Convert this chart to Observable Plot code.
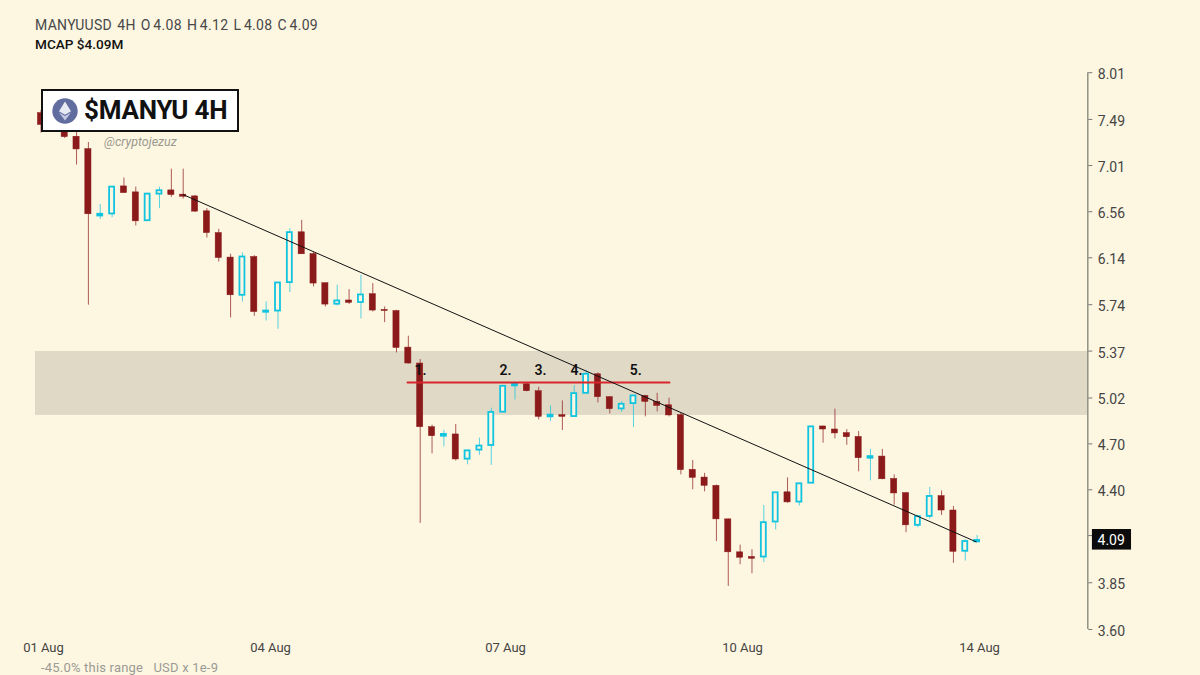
<!DOCTYPE html>
<html>
<head>
<meta charset="utf-8">
<script src="https://cdn.jsdelivr.net/npm/d3@7"></script>
<script src="https://cdn.jsdelivr.net/npm/@observablehq/plot@0.6"></script>
<style>
  html, body { margin: 0; padding: 0; background: #fdf6e1; width: 1200px; height: 675px; overflow: hidden; font-family: Roboto, sans-serif; }
  #wrap { position: relative; width: 1200px; height: 675px; }
  #chart svg { display: block; }
  .ov { position: absolute; white-space: pre; }
  #l1 { left: 35px; top: 17px; font-size: 14px; line-height: 16px; color: #484848; letter-spacing: .3px; word-spacing: -1.2px; }
  #l2 { left: 35px; top: 36px; font-size: 13.6px; line-height: 16px; color: #111; font-weight: 500; }
  #badge { left: 41px; top: 89px; width: 194px; height: 39px; background: #fff; border: 2px solid #111; display: flex; align-items: center; box-sizing: content-box; }
  #badge svg { margin-left: 9px; flex: none; }
  #badge span { margin-left: 6px; font-size: 26px; font-weight: 700; color: #111; line-height: 39px; flex: none; letter-spacing: -.2px; }
  #handle { left: 104px; top: 135px; font-size: 12.5px; line-height: 14px; font-style: italic; color: #9a9a90; }
  #foot { left: 41px; top: 660px; font-size: 13px; line-height: 15px; color: #9b9b95; letter-spacing: .2px; }
</style>
</head>
<body>
<div id="wrap">
  <div id="chart"></div>
  <div class="ov" id="l1">MANYUUSD  4H  O 4.08  H 4.12  L 4.08  C 4.09</div>
  <div class="ov" id="l2">MCAP $4.09M</div>
  <div class="ov" id="badge">
    <svg width="26" height="26" viewBox="0 0 26 26"><circle cx="13" cy="13" r="12.7" fill="#626d9f"/><path d="M13 3.5 L7 13.2 L13 16.8 L19 13.2 Z" fill="#e9ebf4"/><path d="M13 18 L7 14.6 L13 22.5 L19 14.6 Z" fill="#c6cbe2"/></svg>
    <span>$MANYU 4H</span>
  </div>
  <div class="ov" id="handle">@cryptojezuz</div>
  <div class="ov" id="foot">-45.0% this range   USD x 1e-9</div>
</div>
<script>
const open = [7.558,7.404,7.479,7.306,7.177,6.520,6.539,6.803,6.745,6.476,6.728,6.764,6.723,6.706,6.564,6.362,6.142,5.818,6.147,5.678,5.688,5.925,6.369,6.173,5.920,5.744,5.775,5.758,5.827,5.697,5.688,5.397,5.275,4.814,4.752,4.764,4.598,4.658,4.689,4.919,5.108,5.120,5.069,4.886,4.898,4.888,5.054,5.194,5.026,4.942,4.980,5.035,4.992,4.968,4.898,4.528,4.478,4.425,4.217,4.022,3.995,3.995,4.201,4.384,4.323,4.442,4.819,4.798,4.773,4.747,4.604,4.615,4.469,4.379,4.181,4.235,4.360,4.271,4.028,4.083];
const high = [7.587,7.533,7.500,7.362,7.246,6.630,6.803,6.885,6.796,6.738,6.796,6.974,6.974,6.716,6.589,6.396,6.171,6.182,6.159,5.763,5.922,6.403,6.479,6.188,5.920,5.903,5.866,5.988,5.917,5.721,5.694,5.486,5.305,4.828,4.793,4.833,4.653,4.739,4.947,5.105,5.137,5.130,5.098,4.963,4.999,5.110,5.224,5.204,5.030,4.995,5.035,5.040,5.054,5.019,4.912,4.589,4.505,4.430,4.219,4.064,4.037,4.302,4.381,4.476,4.438,4.816,4.821,4.940,4.798,4.784,4.663,4.663,4.495,4.382,4.241,4.415,4.392,4.296,4.095,4.121];
const low = [7.344,7.351,7.288,7.015,5.736,6.488,6.504,6.738,6.427,6.476,6.589,6.697,6.681,6.554,6.317,6.103,5.632,5.763,5.645,5.607,5.541,5.841,6.171,5.888,5.721,5.730,5.741,5.624,5.680,5.594,5.356,5.270,4.193,4.633,4.680,4.586,4.561,4.624,4.557,4.916,5.006,5.065,4.865,4.854,4.791,4.887,5.052,4.985,4.907,4.917,4.812,4.886,4.921,4.886,4.495,4.400,4.387,4.085,3.830,3.951,3.900,3.963,4.153,4.316,4.298,4.439,4.705,4.734,4.691,4.515,4.457,4.464,4.304,4.137,4.167,4.219,4.241,3.959,3.972,4.083];
const close = [7.431,7.500,7.302,7.174,6.536,6.536,6.796,6.738,6.470,6.728,6.761,6.719,6.703,6.561,6.362,6.138,5.818,6.147,5.680,5.688,5.922,6.366,6.171,5.917,5.741,5.771,5.755,5.821,5.692,5.688,5.394,5.275,4.814,4.752,4.764,4.596,4.653,4.685,4.917,5.105,5.120,5.069,4.886,4.898,4.886,5.052,5.194,5.026,4.940,4.975,5.035,4.992,4.963,4.896,4.526,4.476,4.425,4.217,4.022,3.991,3.985,4.197,4.381,4.321,4.438,4.816,4.798,4.771,4.745,4.604,4.615,4.467,4.377,4.181,4.233,4.358,4.271,4.025,4.085,4.091];

const priceTicks = [8.01,7.49,7.01,6.56,6.14,5.74,5.37,5.02,4.70,4.40,4.12,3.85,3.60];
const dateTicks = [0.21,19.37,39.2,59.2,79.2];
const dateLabels = ["01 Aug","04 Aug","07 Aug","10 Aug","14 Aug"];
const zone = {top: 5.367, bottom: 4.896};
const level = [{i: 30.93, v: 5.133}, {i: 53.04, v: 5.133}];
const trend = [{i: 12, v: 6.723}, {i: 78.92, v: 4.083}];
const notes = ["1.","2.","3.","4.","5."];
const noteAt = [32.03,39.2,42.15,45.2,50.2];
const notePrice = 5.224;
const lastPrice = 4.09;

const RED = "#8b1a1a", CYAN = "#10c4e0", BG = "#fdf6e1", FONT = "Roboto, sans-serif";
const axisAt = 88.34, start = -0.464;
const candles = open.map((o, i) => ({i, open: o, high: high[i], low: low[i], close: close[i]}));
const up = candles.filter(d => d.close >= d.open);
const down = candles.filter(d => d.close < d.open);

const chart = Plot.plot({
  width: 1200, height: 675,
  marginLeft: 35, marginRight: 112.7, marginTop: 72.2, marginBottom: 46,
  style: {background: "transparent", fontFamily: FONT},
  x: {type: "linear", domain: [start, axisAt]},
  y: {type: "log", domain: [3.6, 8.01]},
  marks: [
    Plot.rect([zone], {x1: start, x2: axisAt, y1: "bottom", y2: "top", fill: "#e0d9c6"}),
    Plot.ruleX([axisAt], {y1: 3.6, y2: 8.01, stroke: "#8a8a80", strokeWidth: 1.4}),
    Plot.axisY({anchor: "right", ticks: priceTicks, tickSize: 4, tickPadding: 0, tickFormat: () => "", stroke: "#777", label: null}),
    Plot.axisY({anchor: "right", ticks: priceTicks.filter(t => t !== 4.12), tickSize: 0, tickPadding: 10, dy: 2,
      tickFormat: d => d.toFixed(2), fontSize: 14, fill: "#444", label: null}),
    Plot.axisX({anchor: "bottom", ticks: dateTicks, tickSize: 0, tickPadding: 13,
      tickFormat: d => dateLabels[dateTicks.indexOf(d)], fontSize: 13, fill: "#444", label: null}),
    Plot.ruleX(down, {x: "i", y1: "low", y2: "high", stroke: RED, strokeOpacity: .7, strokeWidth: 1}),
    Plot.ruleX(up, {x: "i", y1: "low", y2: "high", stroke: CYAN, strokeOpacity: .7, strokeWidth: 1}),
    Plot.rect(down, {x1: d => d.i - 0.26, x2: d => d.i + 0.26, y1: "close", y2: "open", fill: RED, stroke: RED, strokeWidth: .5}),
    Plot.rect(up, {x1: d => d.i - 0.21, x2: d => d.i + 0.21, y1: "open", y2: "close", fill: BG, stroke: CYAN, strokeWidth: 1.8}),
    Plot.line(level, {x: "i", y: "v", stroke: "#d8262c", strokeWidth: 2}),
    Plot.line(trend, {x: "i", y: "v", stroke: "#111", strokeWidth: 1}),
    Plot.text(notes, {x: (d, k) => noteAt[k], y: notePrice, text: d => d, fontSize: 14, fontWeight: 600, fill: "#111"}),
    Plot.rect([lastPrice], {x1: 88.73, x2: 92.03, y1: 4.035, y2: 4.156, fill: "#0b0b0b"}),
    Plot.text([lastPrice], {x: 89.16, y: lastPrice, text: d => d.toFixed(2), textAnchor: "start", fontSize: 14, fill: "#fff"})
  ]
});
document.getElementById("chart").appendChild(chart);
</script>
</body>
</html>
